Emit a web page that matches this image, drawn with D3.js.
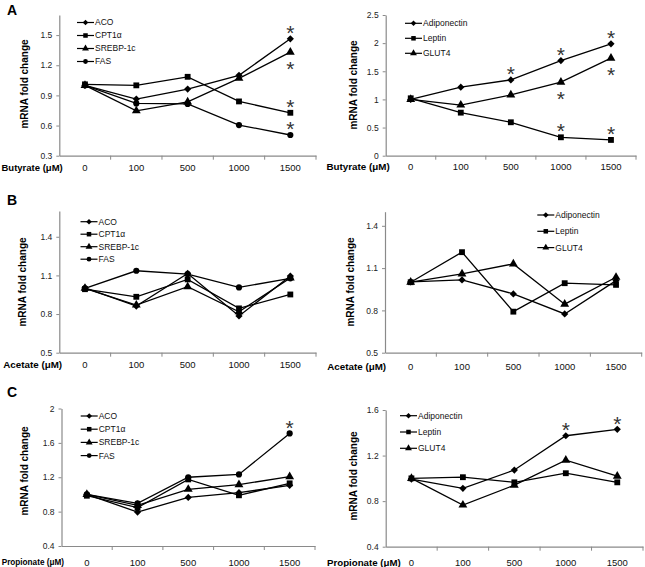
<!DOCTYPE html>
<html lang="en">
<head>
<meta charset="UTF-8">
<title>SCFA mRNA fold change</title>
<style>
  body { margin: 0; background: #fff; }
  svg { display: block; font-family: "Liberation Sans", Arial, sans-serif; }
</style>
</head>
<body>
<script src="https://cdn.jsdelivr.net/npm/d3@7"></script>
<script>
// doses, shared by all x axes
const doses = ["0", "100", "500", "1000", "1500"];

// A - butyrate
const butACO    = [1.0, 0.864, 0.963, 1.10, 1.463];
const butCPT1a  = [1.01, 1.0, 1.085, 0.84, 0.727];
const butSREBP  = [1.0, 0.747, 0.836, 1.07, 1.33];
const butFAS    = [1.0, 0.82, 0.815, 0.605, 0.506];
const butAdipo  = [1.0, 1.217, 1.347, 1.69, 1.988];
const butLeptin = [1.02, 0.765, 0.594, 0.327, 0.28];
const butGLUT4  = [1.0, 0.9, 1.08, 1.306, 1.733];

// B - acetate
const aceACO    = [1.004, 0.862, 1.115, 0.785, 1.095];
const aceCPT1a  = [0.993, 0.934, 1.069, 0.844, 0.952];
const aceSREBP  = [1.0, 0.87, 1.012, 0.818, 1.08];
const aceFAS    = [1.0, 1.136, 1.11, 1.007, 1.077];
const aceAdipo  = [1.002, 1.016, 0.917, 0.775, 1.011];
const aceLeptin = [1.0, 1.213, 0.791, 0.993, 0.981];
const aceGLUT4  = [1.0, 1.059, 1.13, 0.844, 1.035];

// C - propionate
const proACO    = [1.0, 0.795, 0.965, 1.02, 1.106];
const proCPT1a  = [0.985, 0.846, 1.175, 0.99, 1.129];
const proSREBP  = [1.0, 0.873, 1.06, 1.114, 1.207];
const proFAS    = [1.0, 0.897, 1.2, 1.233, 1.71];
const proAdipo  = [0.994, 0.912, 1.073, 1.374, 1.43];
const proLeptin = [1.0, 1.01, 0.965, 1.045, 0.965];
const proGLUT4  = [1.0, 0.766, 0.94, 1.16, 1.02];

// y tick labels
const butLipidTicks = [0.3, 0.6, 0.9, 1.2, 1.5];
const butAdipoTicks = [0, 0.5, 1, 1.5, 2, 2.5];
const aceTicks      = [0.5, 0.8, 1.1, 1.4];
const proLipidTicks = [0.4, 0.8, 1.2, 1.6, 2];
const proAdipoTicks = [0.4, 0.8, 1.2, 1.6];

// significance marks: [series, dose, side]
const butLipidSig = [["ACO", "1500", "up"], ["SREBP-1c", "1500", "down"], ["CPT1α", "1500", "up"], ["FAS", "1500", "up"]];
const butAdipoSig = [["Adiponectin", "500", "up"], ["Adiponectin", "1000", "up"], ["GLUT4", "1000", "down"],
                     ["Leptin", "1000", "up"], ["Adiponectin", "1500", "up"], ["GLUT4", "1500", "down"], ["Leptin", "1500", "up"]];
const proLipidSig = [["FAS", "1500", "up"]];
const proAdipoSig = [["Adiponectin", "1000", "up"], ["Adiponectin", "1500", "up"]];

const lipidNames = ["ACO", "CPT1α", "SREBP-1c", "FAS"];
const adipoNames = ["Adiponectin", "Leptin", "GLUT4"];
const shapes = ["diamond", "square", "triangle", "circle"];

const axisGrey = "#8a8a8a";
const width = 645, height = 567;

const svg = d3.select("body").append("svg")
  .attr("width", width)
  .attr("height", height);

function makeSeries(names, arrays) {
  return names.map((n, i) => ({ name: n, values: arrays[i], shape: shapes[i] }));
}

const panels = [
  { letter: "A", lx: 7, ly: 15, x0: 59.3, x1: 316, yTop: 15, yBot: 155.7, domain: [0.3, 1.7], ticks: butLipidTicks,
    series: makeSeries(lipidNames, [butACO, butCPT1a, butSREBP, butFAS]), sig: butLipidSig,
    xTitle: "Butyrate (μM)", xtx: 1.5, xFont: 9.5, gap: 12.3, ttx: 24, tty: 84,
    leg: { x: 77, y: 22.5, dy: 13 } },
  { x0: 385.7, x1: 636, yTop: 15, yBot: 155.7, domain: [0, 2.5], ticks: butAdipoTicks,
    series: makeSeries(adipoNames, [butAdipo, butLeptin, butGLUT4]), sig: butAdipoSig,
    xTitle: "Butyrate (μM)", xtx: 326.5, xFont: 9.8, gap: 11, ttx: 353, tty: 85,
    leg: { x: 405, y: 23.3, dy: 15 } },
  { letter: "B", lx: 7, ly: 205, x0: 59.3, x1: 316, yTop: 211, yBot: 352.7, domain: [0.5, 1.6], ticks: aceTicks,
    series: makeSeries(lipidNames, [aceACO, aceCPT1a, aceSREBP, aceFAS]), sig: [],
    xTitle: "Acetate (μM)", xtx: 3.3, xFont: 9.8, gap: 12.3, ttx: 22, tty: 282,
    leg: { x: 80.5, y: 221.7, dy: 12.5 } },
  { x0: 385, x1: 641.7, yTop: 211.7, yBot: 352.7, domain: [0.5, 1.5], ticks: aceTicks,
    series: makeSeries(adipoNames, [aceAdipo, aceLeptin, aceGLUT4]), sig: [],
    xTitle: "Acetate (μM)", xtx: 327.3, xFont: 9.8, gap: 14, ttx: 350, tty: 282,
    leg: { x: 537.3, y: 215, dy: 16.3 } },
  { letter: "C", lx: 7, ly: 396.5, x0: 61.5, x1: 315, yTop: 408.5, yBot: 546, domain: [0.4, 2.0], ticks: proLipidTicks,
    series: makeSeries(lipidNames, [proACO, proCPT1a, proSREBP, proFAS]), sig: proLipidSig,
    xTitle: "Propionate (μM)", xtx: 1.7, xFont: 8.2, gap: 16.3, ttx: 24, tty: 471,
    leg: { x: 80.7, y: 416, dy: 13.2 } },
  { x0: 385.7, x1: 643, yTop: 410, yBot: 546.7, domain: [0.4, 1.6], ticks: proAdipoTicks,
    series: makeSeries(adipoNames, [proAdipo, proLeptin, proGLUT4]), sig: proAdipoSig,
    xTitle: "Propionate (μM)", xtx: 327, xFont: 9.7, gap: 15.5, ttx: 353, tty: 476,
    leg: { x: 400, y: 415.7, dy: 16.3 } }
];

function symbolPath(shape, size) {
  if (shape === "diamond") return d3.symbol(d3.symbolSquare, size)();
  if (shape === "square") return d3.symbol(d3.symbolSquare, size)();
  if (shape === "triangle") return d3.symbol(d3.symbolTriangle, size)();
  return d3.symbol(d3.symbolCircle, size)();
}

function addMarker(sel, shape, cx, cy, scale) {
  const sizes = { diamond: 26, square: 34, triangle: 34, circle: 30 };
  sel.append("path")
    .attr("d", symbolPath(shape, sizes[shape] * scale))
    .attr("transform", `translate(${cx},${cy})` + (shape === "diamond" ? " rotate(45)" : ""))
    .attr("fill", "#000");
}

function drawPanel(p) {
  const g = svg.append("g");
  const x = d3.scaleBand().domain(doses).range([p.x0, p.x1]);
  const y = d3.scaleLinear().domain(p.domain).range([p.yBot, p.yTop]);
  const cx = d => x(d) + x.bandwidth() / 2;

  // y axis
  const ya = g.append("g")
    .attr("transform", `translate(${p.x0},0)`)
    .call(d3.axisLeft(y).tickValues(p.ticks).tickSize(3).tickSizeOuter(0).tickPadding(4).tickFormat(d3.format("~g")))
    .attr("font-family", null).attr("font-size", null);
  ya.select(".domain").attr("stroke", axisGrey).attr("stroke-width", 1.2);
  ya.selectAll(".tick line").attr("stroke", axisGrey);
  ya.selectAll(".tick text").attr("font-size", 8.5).attr("fill", "#222");

  // x axis, labels at category centres, ticks at category borders
  const xa = g.append("g")
    .attr("transform", `translate(0,${p.yBot})`)
    .call(d3.axisBottom(x).tickSize(0).tickSizeOuter(0).tickPadding(p.gap - 3.4))
    .attr("font-family", null).attr("font-size", null);
  xa.select(".domain").attr("stroke", axisGrey).attr("stroke-width", 1.2);
  xa.selectAll(".tick text").attr("font-size", 9.5).attr("fill", "#111");
  xa.selectAll(".border")
    .data(doses)
    .enter()
    .append("line")
    .attr("x1", d => x(d) + x.step())
    .attr("x2", d => x(d) + x.step())
    .attr("y1", 0)
    .attr("y2", 4)
    .attr("stroke", axisGrey);

  // axis titles
  g.append("text")
    .attr("transform", `translate(${p.ttx},${p.tty}) rotate(-90)`)
    .attr("dy", "0.35em")
    .attr("text-anchor", "middle")
    .attr("font-weight", "bold")
    .attr("font-size", 10)
    .text("mRNA fold change");
  g.append("text")
    .attr("x", p.xtx)
    .attr("y", p.yBot + p.gap)
    .attr("dy", "0.35em")
    .attr("font-weight", "bold")
    .attr("font-size", p.xFont)
    .text(p.xTitle);

  if (p.letter) {
    g.append("text")
      .attr("x", p.lx)
      .attr("y", p.ly)
      .attr("font-weight", "bold")
      .attr("font-size", 14)
      .text(p.letter);
  }

  // lines + markers
  const line = d3.line().x((d, i) => cx(doses[i])).y(d => y(d));
  p.series.forEach(s => {
    g.append("path")
      .attr("d", line(s.values))
      .attr("fill", "none")
      .attr("stroke", "#000")
      .attr("stroke-width", 1.3);
  });
  p.series.forEach(s => {
    s.values.forEach((v, i) => addMarker(g, s.shape, cx(doses[i]), y(v), 1));
  });

  // significance asterisks
  p.sig.forEach(([name, dose, side]) => {
    const s = p.series.find(d => d.name === name);
    const v = s.values[doses.indexOf(dose)];
    const c = y(v) + (side === "up" ? -11 : 12);
    g.append("text")
      .attr("x", cx(dose))
      .attr("y", c + 0.58 * 21)
      .attr("text-anchor", "middle")
      .attr("font-size", 21)
      .attr("fill", "#333")
      .text("*");
  });

  // legend
  p.series.forEach((s, i) => {
    const ly = p.leg.y + i * p.leg.dy;
    g.append("line")
      .attr("x1", p.leg.x).attr("x2", p.leg.x + 17)
      .attr("y1", ly).attr("y2", ly)
      .attr("stroke", "#000").attr("stroke-width", 1.2);
    addMarker(g, s.shape, p.leg.x + 8.5, ly, 0.6);
    g.append("text")
      .attr("x", p.leg.x + 18)
      .attr("y", ly)
      .attr("dy", "0.35em")
      .attr("font-size", 8.5)
      .attr("fill", "#111")
      .text(s.name);
  });
}

panels.forEach(drawPanel);
</script>
</body>
</html>
